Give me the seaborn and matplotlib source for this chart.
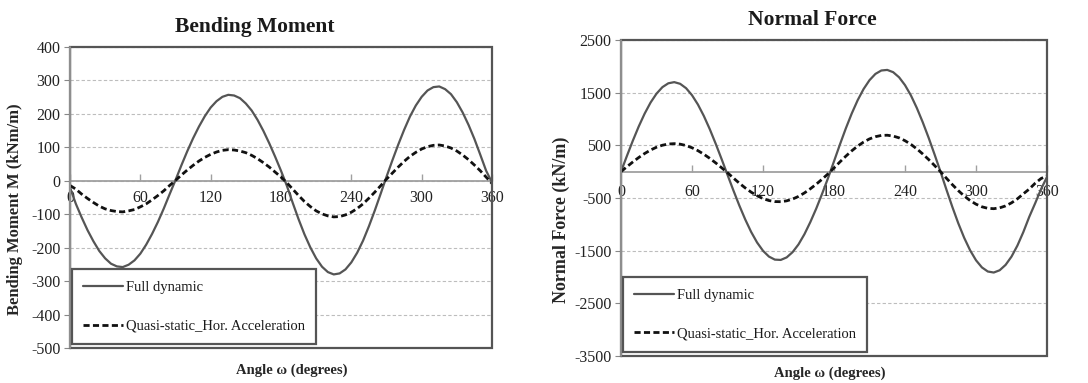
import numpy as np
import pandas as pd
import matplotlib
matplotlib.use("Agg")
import matplotlib.pyplot as plt
from matplotlib.patches import Rectangle
import seaborn as sns

# Rotation angle of the section (degrees), 5-degree steps
angle = list(range(0, 361, 5))

# Bending moment M (kNm/m)
bm_full = [-20, -69, -110, -148, -181, -210, -232, -248, -256, -258, -251, -238, -218, -191, -159,
           -123, -83, -40, 2, 46, 88, 127, 162, 193, 219, 238, 251, 257, 255, 247,
           231, 210, 182, 149, 112, 72, 30, -15, -66, -115, -160, -199, -232, -257, -273,
           -280, -277, -265, -244, -215, -179, -136, -89, -39, 12, 61, 108, 152, 192, 225,
           251, 270, 280, 282, 274, 259, 235, 204, 167, 125, 78, 30, -5]
bm_quasi = [-14, -25, -40, -53, -65, -76, -84, -89, -92, -93, -90, -86, -78, -69, -57,
            -44, -30, -14, 1, 17, 32, 46, 59, 70, 79, 86, 91, 93, 92, 89,
            84, 76, 66, 54, 41, 26, 11, -6, -25, -44, -62, -77, -90, -99, -105,
            -108, -107, -102, -94, -83, -69, -52, -34, -15, 5, 23, 41, 58, 73, 85,
            95, 102, 106, 107, 104, 98, 89, 77, 63, 47, 30, 11, -8]

# Normal force N (kN/m)
nf_full = [0, 299, 588, 859, 1103, 1313, 1481, 1605, 1678, 1700, 1668, 1585, 1452, 1275, 1058,
           808, 532, 240, -60, -357, -643, -908, -1145, -1345, -1502, -1612, -1670, -1676, -1628, -1528,
           -1381, -1188, -957, -700, -417, -120, 196, 516, 822, 1105, 1357, 1569, 1737, 1856, 1921,
           1932, 1889, 1792, 1643, 1448, 1209, 938, 642, 326, 0, -340, -669, -978, -1255, -1492,
           -1682, -1818, -1896, -1915, -1872, -1770, -1613, -1403, -1147, -858, -600, -330, -100]
nf_quasi = [0, 94, 184, 269, 345, 411, 464, 502, 525, 532, 522, 496, 454, 399, 331,
            253, 167, 75, -20, -121, -219, -309, -389, -457, -511, -548, -568, -570, -554, -520,
            -470, -404, -325, -238, -142, -41, 70, 185, 294, 396, 486, 562, 622, 664, 688,
            692, 676, 642, 588, 518, 433, 336, 230, 117, 0, -125, -246, -359, -461, -548,
            -617, -667, -696, -703, -687, -650, -592, -515, -421, -330, -220, -130, -80]

series_names = ["Full dynamic", "Quasi-static_Hor. Acceleration"]
x_ticks = [0, 60, 120, 180, 240, 300, 360]
bm_ticks = [400, 300, 200, 100, 0, -100, -200, -300, -400, -500]
nf_ticks = [2500, 1500, 500, -500, -1500, -2500, -3500]

sns.set_style("white")
plt.rcParams["font.family"] = ["Liberation Serif", "DejaVu Serif"]
plt.rcParams["text.color"] = "#1a1a1a"

fig = plt.figure(figsize=(10.88, 3.83), dpi=100)
ax1 = fig.add_axes([70 / 1088, 1 - 348 / 383, 422 / 1088, 301 / 383])
ax2 = fig.add_axes([621 / 1088, 1 - 356 / 383, 426 / 1088, 316 / 383])

line_colors = {series_names[0]: "#555555", series_names[1]: "#111111"}
line_widths = {series_names[0]: 1.6, series_names[1]: 2.0}
line_dashes = {series_names[0]: "", series_names[1]: (2.2, 1.2)}


def long_form(full, quasi):
    return pd.concat([
        pd.DataFrame({"angle": angle, "value": full, "case": series_names[0]}),
        pd.DataFrame({"angle": angle, "value": quasi, "case": series_names[1]}),
    ], ignore_index=True)


def draw_panel(ax, df, yticks, ylim, title, title_xy, ylabel, ylabel_size, ylabel_xy,
               xlabel_xy, xtick_pad):
    for name in series_names:
        sub = df[df["case"] == name]
        sns.lineplot(data=sub, x="angle", y="value", ax=ax, color=line_colors[name],
                     linewidth=line_widths[name], dashes=False, label=name, zorder=3)
        if line_dashes[name]:
            ax.lines[-1].set_dashes(line_dashes[name])

    ax.set_xlim(0, 360)
    ax.set_ylim(*ylim)
    ax.set_yticks(yticks)
    ax.set_yticklabels([str(t) for t in yticks])
    ax.tick_params(axis="y", which="both", left=True, length=4, width=0.8, color="#888888",
                   labelsize=11.5, pad=3, labelcolor="#222222")
    ax.yaxis.grid(True, linestyle=(0, (3, 2)), color="#bdbdbd", linewidth=0.8)
    ax.xaxis.grid(False)

    # Category axis crosses the value axis at zero
    for side in ("top", "right"):
        ax.spines[side].set_visible(False)
    ax.spines["left"].set_color("#9a9a9a")
    ax.spines["left"].set_linewidth(1.0)
    ax.spines["bottom"].set_position(("data", 0))
    ax.spines["bottom"].set_color("#a0a0a0")
    ax.spines["bottom"].set_linewidth(1.3)
    ax.set_xticks(x_ticks)
    ax.set_xticklabels([str(t) for t in x_ticks])
    ax.tick_params(axis="x", bottom=True, direction="in", length=5, width=1.0, color="#a0a0a0",
                   labelsize=11.5, pad=xtick_pad, labelcolor="#222222")

    # Plot-area border
    ax.add_patch(Rectangle((0, 0), 1, 1, transform=ax.transAxes, fill=False,
                           edgecolor="#555555", linewidth=1.6, zorder=4, clip_on=False))
    ax.plot([0, 0], [0, 1], transform=ax.transAxes, color="#9a9a9a", linewidth=1.2,
            zorder=4.5, clip_on=False)

    ax.set_xlabel("Angle ω (degrees)", fontsize=10.5, fontweight="bold")
    ax.xaxis.set_label_coords(*xlabel_xy)
    ax.set_ylabel(ylabel, fontsize=ylabel_size, fontweight="bold")
    ax.yaxis.set_label_coords(*ylabel_xy)

    fig.text(title_xy[0] / 1088, 1 - title_xy[1] / 383, title, fontsize=15.5,
             fontweight="bold", ha="center", va="center")

    leg = ax.legend(loc="lower left", bbox_to_anchor=(0.004, 0.012), borderaxespad=0,
                    fontsize=10.5, frameon=True, fancybox=False, handlelength=2.75,
                    handletextpad=0.15, labelspacing=1.75, borderpad=0.8)
    frame = leg.get_frame()
    frame.set_edgecolor("#555555")
    frame.set_linewidth(1.6)
    frame.set_facecolor("white")
    frame.set_alpha(1)
    leg.set_zorder(5)


draw_panel(ax1, long_form(bm_full, bm_quasi), bm_ticks, (-500, 400), "Bending Moment",
           (255, 27), "Bending Moment M (kNm/m)", 12, (-0.111, 0.46), (0.526, -0.05), 7)
draw_panel(ax2, long_form(nf_full, nf_quasi), nf_ticks, (-3500, 2500), "Normal Force",
           (812, 20), "Normal Force (kN/m)", 13, (-0.12, 0.43), (0.49, -0.032), 9)

fig.savefig("out.png", dpi=100)
